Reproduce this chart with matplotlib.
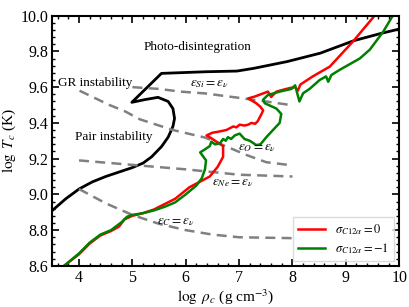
import numpy as np
import matplotlib
matplotlib.use('Agg')
import matplotlib.pyplot as plt
from matplotlib.ticker import MultipleLocator, FormatStrFormatter

plt.rcParams['font.family'] = ['Liberation Serif', 'DejaVu Serif']
plt.rcParams['mathtext.fontset'] = 'stix'

# boundary of the stable region (black line)
bound_rho = [3.5, 3.75, 4.0, 4.25, 4.5, 4.75, 5.0, 5.2, 5.36, 5.545, 5.67, 5.76, 5.79,
             5.76, 5.67, 5.48, 5.23, 4.99, 5.545, 6.36, 6.96, 7.27, 7.9, 8.52, 9.15,
             9.65, 10.0]
bound_T = [8.91, 8.975, 9.03, 9.07, 9.10, 9.125, 9.15, 9.175, 9.21, 9.267, 9.32, 9.38,
           9.425, 9.48, 9.52, 9.543, 9.53, 9.515, 9.677, 9.686, 9.69, 9.705, 9.743,
           9.79, 9.86, 9.90, 9.925]

# burning = neutrino loss lines (grey dashed)
si_rho = [5.0, 5.5, 5.9, 6.36, 7.0, 7.5, 7.96]
si_T = [9.60, 9.59, 9.575, 9.565, 9.54, 9.52, 9.50]
o_rho = [4.01, 4.57, 4.86, 5.14, 5.76, 6.36, 6.51, 7.14, 7.51, 7.95]
o_T = [9.58, 9.50, 9.465, 9.42, 9.36, 9.318, 9.30, 9.22, 9.18, 9.164]
ne_rho = [4.0, 5.0, 6.0, 7.0, 8.0]
ne_T = [9.19, 9.165, 9.14, 9.11, 9.10]
c_rho = [4.0, 4.5, 5.0, 5.5, 6.0, 6.5, 7.0, 8.0]
c_T = [9.03, 8.95, 8.885, 8.835, 8.80, 8.775, 8.76, 8.755]

# central evolution tracks
red_rho = [3.72, 4.0, 4.2, 4.4, 4.6, 4.75, 4.85, 5.0, 5.2, 5.4, 5.6, 5.8, 6.07, 6.26,
           6.45, 6.6, 6.7, 6.7, 6.6, 6.5, 6.39, 6.5, 6.6, 6.76, 6.89, 6.95, 7.01, 7.1,
           7.17, 7.23, 7.3, 7.35, 7.42, 7.45, 7.4, 7.32, 7.17, 7.29, 7.45, 7.54,
           7.6, 7.65, 7.7, 7.82, 7.95, 8.05, 8.1, 8.15, 8.38, 8.7, 9.13, 9.54]
red_T = [8.60, 8.665, 8.725, 8.77, 8.795, 8.82, 8.86, 8.88, 8.895, 8.915, 8.945, 8.975,
         9.04, 9.07, 9.10, 9.155, 9.21, 9.27, 9.29, 9.31, 9.33, 9.345, 9.35, 9.36, 9.38,
         9.375, 9.39, 9.385, 9.39, 9.40, 9.395, 9.41, 9.45, 9.47, 9.49, 9.51, 9.537,
         9.547, 9.565, 9.575, 9.545, 9.56, 9.575, 9.585, 9.595, 9.60, 9.58, 9.615,
         9.66, 9.715, 9.854, 10.0]
green_rho = [3.70, 4.0, 4.2, 4.4, 4.6, 4.8, 4.9, 5.0, 5.2, 5.4, 5.6, 5.8, 6.0, 6.2,
             6.3, 6.36, 6.38, 6.32, 6.27, 6.35, 6.45, 6.48, 6.55, 6.64, 6.7, 6.75, 6.79,
             6.85, 6.92, 7.01, 7.1, 7.2, 7.32, 7.4, 7.51, 7.76, 7.79, 7.7, 7.48, 7.45,
             7.54, 7.76, 7.98, 8.05, 8.13, 8.2, 8.32, 8.51, 8.63, 8.67, 8.73, 8.88, 9.26,
             9.45, 9.7, 9.88]
green_T = [8.595, 8.67, 8.73, 8.775, 8.80, 8.845, 8.875, 8.885, 8.895, 8.91, 8.93,
           8.955, 9.00, 9.05, 9.09, 9.14, 9.19, 9.215, 9.235, 9.25, 9.27, 9.295, 9.28,
           9.285, 9.31, 9.30, 9.32, 9.31, 9.33, 9.34, 9.31, 9.30, 9.276, 9.28, 9.32,
           9.40, 9.45, 9.48, 9.51, 9.53, 9.556, 9.575, 9.59, 9.61, 9.52, 9.566, 9.59,
           9.64, 9.66, 9.63, 9.668, 9.696, 9.76, 9.81, 9.91, 10.0]

fig = plt.figure(figsize=(4.09, 3.07), dpi=100)
ax = fig.add_axes([0.128, 0.134, 0.848, 0.815])

ax.plot(bound_rho, bound_T, color='black', lw=2)
for xs, ys in [(si_rho, si_T), (o_rho, o_T), (ne_rho, ne_T), (c_rho, c_T)]:
    ax.plot(xs, ys, color='grey', lw=1.8, ls=(0, (4, 2.5)))
ax.plot(red_rho, red_T, color='red', lw=1.8, label=r'$\sigma_{C12\alpha}=0$')
ax.plot(green_rho, green_T, color='green', lw=1.8, label=r'$\sigma_{C12\alpha}=-1$')

ax.text(5.21, 9.827, 'Photo-disintegration', fontsize=9.5, va='center')
ax.text(3.61, 9.625, 'GR instability', fontsize=9.5, va='center')
ax.text(3.92, 9.32, 'Pair instability', fontsize=9.5, va='center')
ax.text(6.08, 9.62, r'$\epsilon_{Si}=\epsilon_\nu$', fontsize=9.5, va='center')
ax.text(6.97, 9.262, r'$\epsilon_{O}=\epsilon_\nu$', fontsize=9.5, va='center')
ax.text(6.49, 9.063, r'$\epsilon_{Ne}=\epsilon_\nu$', fontsize=9.5, va='center')
ax.text(5.46, 8.845, r'$\epsilon_{C}=\epsilon_\nu$', fontsize=9.5, va='center')

ax.set_xlim(3.5, 10)
ax.set_ylim(8.6, 10.0)
ax.xaxis.set_major_locator(MultipleLocator(1))
ax.xaxis.set_minor_locator(MultipleLocator(0.2))
ax.yaxis.set_major_locator(MultipleLocator(0.2))
ax.yaxis.set_minor_locator(MultipleLocator(0.04))
ax.yaxis.set_major_formatter(FormatStrFormatter('%.1f'))
ax.tick_params(which='both', direction='in', top=True, right=True, labelsize=11.5)
ax.tick_params(which='major', length=5, width=1.2, pad=3)
ax.tick_params(which='minor', length=2.5, width=1)
for s in ax.spines.values():
    s.set_linewidth(1.5)

ax.set_xlabel(r'$\log\ \rho_c$ (g cm$^{-3}$)', fontsize=11)
ax.set_ylabel(r'$\log\ T_c$ (K)', fontsize=11)
ax.xaxis.set_label_coords(0.5, -0.085)
ax.yaxis.set_label_coords(-0.098, 0.5)
ax.legend(loc='lower right', fontsize=9, fancybox=False, edgecolor='lightgrey',
          handlelength=2.2, borderpad=0.4, labelspacing=0.35, borderaxespad=0.4)

fig.savefig('out.png', dpi=100)
